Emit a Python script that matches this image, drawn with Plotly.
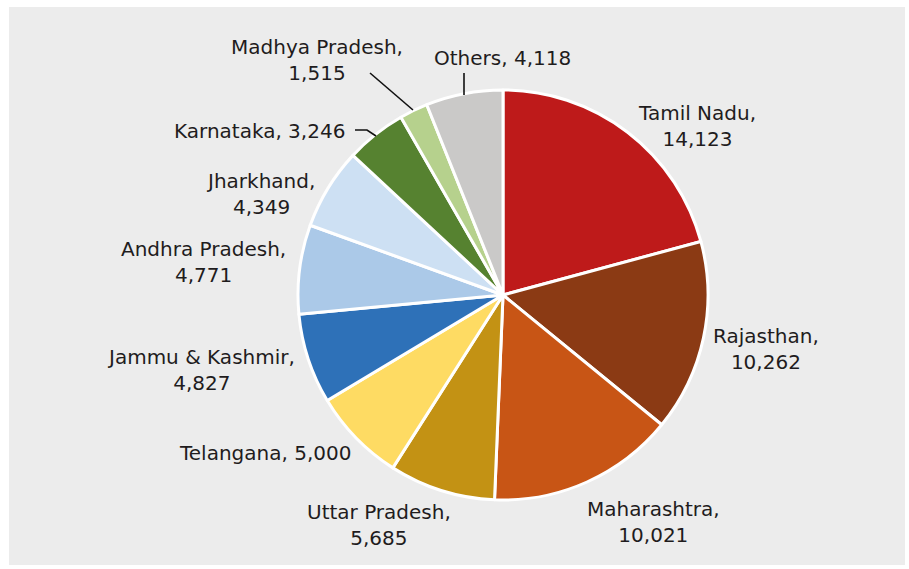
import plotly.graph_objects as go

W, H = 909, 569

states = ["Tamil Nadu", "Rajasthan", "Maharashtra", "Uttar Pradesh", "Telangana",
          "Jammu & Kashmir", "Andhra Pradesh", "Jharkhand", "Karnataka",
          "Madhya Pradesh", "Others"]
values = [14123, 10262, 10021, 5685, 5000, 4827, 4771, 4349, 3246, 1515, 4118]
colors = ["#be1a1a", "#8b3a14", "#c85515", "#c39214", "#fedb63", "#2e71b8",
          "#abc9e8", "#cde0f3", "#568230", "#b6d18d", "#cac9c8"]
# label text layout: line breaks per label (True = two lines)
two_line = [True, True, True, True, False, True, True, True, False, True, False]
# label centre positions in pixels (layout only)
label_px = [(697, 126), (766, 349), (653, 522), (379, 525), (265, 453),
            (201, 370), (203, 262), (260, 194), (259, 131), (317, 60), (503, 58)]

cx, cy, r = 503, 295, 205

fig = go.Figure(go.Pie(
    labels=states, values=values, sort=False, direction="clockwise", rotation=0,
    marker=dict(colors=colors, line=dict(color="white", width=3)),
    textinfo="none", hoverinfo="label+value", showlegend=False,
    domain=dict(x=[(cx - r) / W, (cx + r) / W], y=[1 - (cy + r) / H, 1 - (cy - r) / H]),
))

font = dict(family="DejaVu Sans, sans-serif", size=20, color="#1f1c1d")
for name, v, tl, (px, py) in zip(states, values, two_line, label_px):
    txt = f"{name},<br>{v:,}" if tl else f"{name}, {v:,}"
    fig.add_annotation(x=px / W, y=1 - py / H, xref="paper", yref="paper", text=txt,
                       showarrow=False, font=font, align="center",
                       xanchor="center", yanchor="middle")

def P(x, y):
    return x / W, 1 - y / H

shapes = []
# background panel
shapes.append(dict(type="rect", xref="paper", yref="paper", x0=9 / W, x1=905 / W,
                   y0=1 - 565 / H, y1=1 - 7 / H, fillcolor="#ececec",
                   line=dict(width=0), layer="below"))
# leader lines
for (x0, y0), (x1, y1) in [((370, 73), (413, 110)), ((464, 73), (464, 95))]:
    a, b = P(x0, y0); c, d = P(x1, y1)
    shapes.append(dict(type="line", xref="paper", yref="paper", x0=a, y0=b, x1=c, y1=d,
                       line=dict(color="#111111", width=1.6)))
pts = [P(355, 130), P(367, 130), P(376, 136)]
path = "M {} {} L {} {} L {} {}".format(*[v for p in pts for v in p])
shapes.append(dict(type="path", xref="paper", yref="paper", path=path,
                   line=dict(color="#111111", width=1.6)))

fig.update_layout(width=W, height=H, margin=dict(l=0, r=0, t=0, b=0),
                  paper_bgcolor="white", plot_bgcolor="white", shapes=shapes)
fig.write_html("out.html", config={"displayModeBar": False},
               post_script="document.body.style.margin='0';")
